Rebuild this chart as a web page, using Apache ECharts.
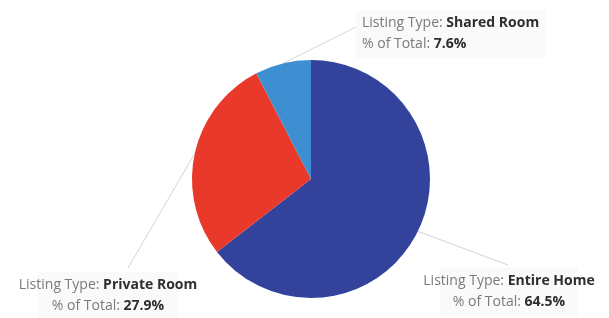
<!DOCTYPE html>
<html>
<head>
<meta charset="utf-8">
<script src="https://cdn.jsdelivr.net/npm/echarts@6/dist/echarts.min.js"></script>
<style>
  html, body { margin: 0; padding: 0; background: #fff; }
  #chart { width: 609px; height: 318px; }
</style>
</head>
<body>
<div id="chart"></div>
<script>
  // listing types, clockwise from 12 o'clock
  var categories = ['Entire Home', 'Private Room', 'Shared Room']
  var percents = [64.5, 27.9, 7.6]
  var colors = ['#33439b', '#e8392a', '#3e8fd2']

  // where each label box sits, and where its leader line ends
  var labelSpots = [
    { x: 509, y: 268, align: 'center', end: [508, 265] },
    { x: 108, y: 272, align: 'center', end: [128, 268] },
    { x: 356, y: 10, align: 'left', end: [356, 27] }
  ]

  var chart = echarts.init(document.getElementById('chart'))

  chart.setOption({
    animation: false,
    series: [
      {
        type: 'pie',
        center: [311, 179],
        radius: 119,
        startAngle: 90,
        clockwise: true,
        data: categories.map(function(name, i) {
          return { name: name, value: percents[i], itemStyle: { color: colors[i] } }
        }),
        label: {
          show: true,
          position: 'outside',
          overflow: 'none',
          fontFamily: 'Open Sans',
          backgroundColor: '#fafafa',
          padding: [3, 6],
          formatter: function(p) {
            return '{a|Listing Type: }{b|' + p.name + '}\n{a|% of Total: }{b|' + p.value.toFixed(1) + '%}'
          },
          rich: {
            a: { fontFamily: 'Open Sans', fontSize: 14, color: '#7a7a7a', lineHeight: 21 },
            b: { fontFamily: 'Open Sans', fontSize: 14, fontWeight: 'bold', color: '#2e2e2e', lineHeight: 21 }
          }
        },
        labelLine: {
          show: true,
          length: 20,
          length2: 20,
          lineStyle: { color: '#d4d4d4', width: 1 }
        },
        labelLayout: function(params) {
          var s = labelSpots[params.dataIndex]
          var start = params.labelLinePoints[0]
          return {
            x: s.x,
            y: s.y,
            align: s.align,
            verticalAlign: 'top',
            labelLinePoints: [start, start, s.end]
          }
        }
      }
    ]
  })
</script>
</body>
</html>
